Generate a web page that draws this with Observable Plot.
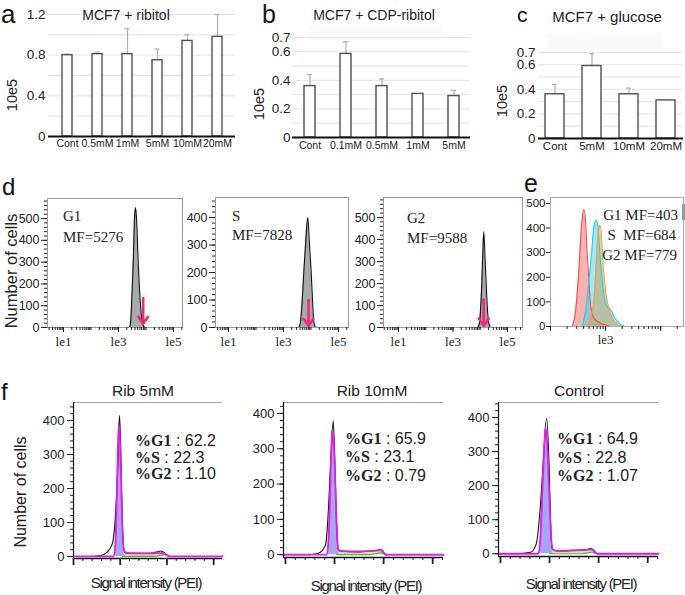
<!DOCTYPE html>
<html><head><meta charset="utf-8">
<script src="https://cdn.jsdelivr.net/npm/d3@7"></script>
<script src="https://cdn.jsdelivr.net/npm/@observablehq/plot@0.6"></script>
<style>
body{margin:0;background:#fff;}
#fig{position:relative;width:685px;height:595px;overflow:hidden;background:#fff;}
#fig svg{background:transparent !important;overflow:visible;}
</style></head><body><div id="fig"></div>
<script>
// ---------------- DATA ----------------
// panel a
const aCats = ["Cont","0.5mM","1mM","5mM","10mM","20mM"];
const aVals = [0.80,0.81,0.81,0.75,0.94,0.98];
const aErrs = [0.01,0.02,0.25,0.11,0.06,0.22];
const aYTicks = [0,0.4,0.8,1.2];
const aGrid = [0.2,0.4,0.6,0.8,1.0,1.2];
// panel b
const bCats = ["Cont","0.1mM","0.5mM","1mM","5mM"];
const bVals = [0.36,0.585,0.36,0.305,0.29];
const bErrs = [0.08,0.085,0.05,0,0.04];
const bYTicks = [0,0.2,0.4,0.6,0.7];
const bGrid = [0.1,0.2,0.3,0.4,0.5,0.6,0.7];
// panel c
const cCats = ["Cont","5mM","10mM","20mM"];
const cVals = [0.36,0.59,0.36,0.31];
const cErrs = [0.08,0.10,0.05,0];
const cYTicks = [0,0.2,0.4,0.6,0.7];
const cGrid = [0.1,0.2,0.3,0.4,0.5,0.6,0.7];
// panel d histograms (signal, count)
const d1X = [2500,2730,2970,3430,3820,4150,4520,5200,6310,7280,8800];
const d1Y = [0,20,100,300,500,550,500,300,100,20,0];
const d2X = [3600,4150,4790,5470,6310,7650,8810,10160,11350,12650,14600];
const d2Y = [0,20,100,200,300,400,300,200,100,20,0];
const d3X = [8130,9380,10470,11400,12100,13490,15200,16520,17980,20600,23770];
const d3Y = [0,20,100,200,300,435,300,200,100,20,0];
const dArrows = [{x:7900,top:134,tip:17},{x:8110,top:100,tip:6},{x:13490,top:127,tip:8}];
const dNames = ["G1","S","G2"];
const dMF = ["MF=5276","MF=7828","MF=9588"];
const dXTicks = [10,1000,100000];
const dXLabels = ["le1","le3","le5"];
// panel e
const eRedX = [248,285,327,361,403,433,464,498,533,614,811,1072,1230];
const eRedY = [0,62,226,390,475,430,295,185,90,34,14,4,0];
const eCyanX = [377,433,498,556,614,686,726,789,871,973,1072,1232,1418,1746,2310];
const eCyanY = [0,62,185,295,404,432,404,295,185,103,82,68,41,14,0];
const eOrangeX = [464,533,614,686,736,789,834,882,959,1043,1151,1322,1630,1874];
const eOrangeY = [0,34,103,281,384,411,384,281,185,116,75,34,7,0];
const eLabels = ["G1 MF=403","S\u2002MF=684","G2 MF=779"];
// panel f (channel, count)
const f1BlackX = [0,33,58,72,83,90,95,98.5,101,103.5,106,109,115,140,160,172,180,186,192,200,206,319];
const f1BlackY = [0,0,3,13,37,125,272,415,330,160,50,15,10,9,9,11,14,16,13,4,0,0];
const f1MagX = [0,86,90,93.5,97,99.5,102,105,108,112,160,180,190,200,206,319];
const f1MagY = [0,0,47,223,390,340,220,70,18,10,9,10,10,4,0,0];
const f1BlueX = [86,90,93.5,97,99.5,102,105,108,111];
const f1BlueY = [0,47,223,390,340,220,70,10,0];
const f1YelX = [100,108,115,160,185,195,202,206];
const f1YelY = [0,8,9,9,10,8,2,0];
const f1GreenX = [105,170,185,195,203,208];
const f1GreenY = [0,0,3,5,2,0];
const f2BlackX = [-4,50,58,71,82,87,92,97.3,100.7,104,107,112,150,180,187,192.5,198,204,322];
const f2BlackY = [0,0,1,7,30,115,258,379,258,97,16,10,8,11,12,15,10,0,0];
const f2MagX = [-4,84,88,92,95.3,99,102,105,108,112,150,187,193,200,205,322];
const f2MagY = [0,0,50,230,353,300,180,60,15,10,9,12,13,6,0,0];
const f2BlueX = [84,88,92,95.3,99,102,105,108,110];
const f2BlueY = [0,50,230,353,300,180,60,10,0];
const f2YelX = [98,106,115,160,187,195,201,205];
const f2YelY = [0,8,9,10,12,11,3,0];
const f2GreenX = [104,170,185,193,200,205];
const f2GreenY = [0,0,3,5,2,0];
const f3BlackX = [-4,34,61,73,80,87,94,99,102,105.5,116,150,177,184,190,197,322];
const f3BlackY = [0,0,4,29,117,263,397,263,98,15,8,10,12,16,10,0,0];
const f3MagX = [-4,77,81,86,91.8,96,99.5,103,106,112,150,178,185,192,197,322];
const f3MagY = [0,0,40,210,371,300,170,55,14,9,10,12,13,6,0,0];
const f3BlueX = [77,81,86,91.8,96,99.5,103,106,108];
const f3BlueY = [0,40,210,371,300,170,55,10,0];
const f3YelX = [94,102,112,150,178,186,193,197];
const f3YelY = [0,8,9,10,12,11,3,0];
const f3GreenX = [100,165,178,186,193,197];
const f3GreenY = [0,0,3,5,2,0];
const fTitles = ["Rib 5mM","Rib 10mM","Control"];
const fPhase = ["%G1","%S","%G2"];
const f1Pct = ["62.2","22.3","1.10"];
const f2Pct = ["65.9","23.1","0.79"];
const f3Pct = ["64.9","22.8","1.07"];
const fYTicks = [0,100,200,300,400];
const fXMajor = [0,100,200,300];

// ---------------- HELPERS ----------------
const SANS = "Liberation Sans, Arial, sans-serif";
const SERIF = "Liberation Serif, Times New Roman, serif";
const fig = document.getElementById("fig");
function put(el, left, top) {
  el.style.position = "absolute"; el.style.left = left + "px"; el.style.top = top + "px";
  fig.appendChild(el);
}
const pts = (xs, ys) => xs.map((x, i) => ({x, y: ys[i]}));
const baseStyle = {background: "transparent", overflow: "visible", fontFamily: SANS, color: "#222"};
const noText = () => "";
const plain = d => String(d);

// ---------------- BAR PANELS ----------------
function barPanel(o) {
  const rows = o.cats.map((c, i) => ({c, v: o.vals[i], hi: o.vals[i] + o.errs[i], e: o.errs[i]}));
  const eb = rows.filter(d => d.e > 0);
  const svg = Plot.plot({
    width: o.w, height: o.h, marginTop: o.mt, marginBottom: o.mb, marginLeft: o.ml, marginRight: o.mr,
    style: baseStyle,
    x: {type: "band", domain: o.cats, paddingInner: o.pi, paddingOuter: o.po},
    y: {domain: [0, o.ymax]},
    marks: [
      Plot.ruleY(o.grid, {stroke: "#e4e4e4"}),
      Plot.ruleX(eb, {x: "c", y1: "v", y2: "hi", stroke: "#b0b0b0", strokeWidth: 1.2}),
      Plot.tickY(eb, {x: "c", y: "hi", stroke: "#b0b0b0", strokeWidth: 1.2, insetLeft: o.cap, insetRight: o.cap}),
      Plot.barY(rows, {x: "c", y: "v", fill: "white", stroke: "#505050", strokeWidth: 1.4}),
      Plot.ruleY([0], {stroke: "#111", strokeWidth: 2}),
      Plot.axisX({tickSize: 0, tickPadding: o.xpad, fontSize: o.xfs, label: null}),
      Plot.axisY({ticks: o.yticks, tickFormat: plain, tickSize: 0, tickPadding: o.ypad, fontSize: o.yfs, label: null})
    ]
  });
  put(svg, o.left, o.top);
}
barPanel({cats: aCats, vals: aVals, errs: aErrs, yticks: aYTicks, grid: aGrid, ymax: 1.2,
  left: 0, top: 0, w: 240, h: 165, ml: 48, mr: 5, mt: 14, mb: 29, pi: 0.67, po: 0.39, cap: 2.5,
  xpad: 3.5, xfs: 10.5, ypad: 3, yfs: 13.5});
barPanel({cats: bCats, vals: bVals, errs: bErrs, yticks: bYTicks, grid: bGrid, ymax: 0.7,
  left: 240, top: 0, w: 232, h: 165, ml: 52, mr: 2, mt: 37, mb: 28, pi: 0.70, po: 0.29, cap: 3,
  xpad: 4.5, xfs: 10.5, ypad: 2, yfs: 13.5});
barPanel({cats: cCats, vals: cVals, errs: cErrs, yticks: cYTicks, grid: cGrid, ymax: 0.7,
  left: 472, top: 0, w: 213, h: 165, ml: 66, mr: 2, mt: 52, mb: 27, pi: 0.486, po: 0.2, cap: 7,
  xpad: 3, xfs: 11.5, ypad: 3, yfs: 13.5});

// ---------------- D PANELS ----------------
function dPanel(o) {
  const data = pts(o.xs, o.ys);
  const xMinor = d3.scaleLog().domain(o.xdom).ticks();
  const yMinor = d3.range(0, o.ymax, 20);
  const svg = Plot.plot({
    width: o.w, height: o.h, marginTop: o.mt, marginBottom: o.mb, marginLeft: o.ml, marginRight: o.mr,
    style: baseStyle,
    x: {type: "log", domain: o.xdom},
    y: {domain: [0, o.ymax]},
    marks: [
      Plot.areaY(data, {x: "x", y: "y", fill: "#a9a9a9", curve: "monotone-x"}),
      Plot.lineY(data, {x: "x", y: "y", stroke: "#111", strokeWidth: 1.1, curve: "monotone-x"}),
      Plot.arrow([o.arrow], {x1: "x", x2: "x", y1: "top", y2: "tip", stroke: "#f0287d", strokeWidth: 2.6, headLength: 10, headAngle: 70}),
      Plot.frame({stroke: "#9a9a9a"}),
      Plot.axisY({ticks: yMinor, tickSize: 3, tickFormat: noText, label: null}),
      Plot.axisY({ticks: [0,100,200,300,400,500].filter(t => t < o.ymax), tickFormat: plain, tickSize: 6, tickPadding: 2, fontSize: 12.5, label: null}),
      Plot.axisX({ticks: xMinor, tickSize: 3, tickFormat: noText, label: null}),
      Plot.axisX({ticks: dXTicks, tickFormat: d => dXLabels[dXTicks.indexOf(d)], tickSize: 5, tickPadding: 4, fontSize: 13, fontFamily: SERIF, label: null})
    ]
  });
  put(svg, o.left, o.top);
}
dPanel({xs: d1X, ys: d1Y, arrow: dArrows[0], xdom: [2.62, 212000], ymax: 592,
  left: 0, top: 185, w: 190, h: 165, ml: 47, mr: 8, mt: 13, mb: 23});
dPanel({xs: d2X, ys: d2Y, arrow: dArrows[1], xdom: [3.37, 231000], ymax: 473,
  left: 190, top: 185, w: 165, h: 165, ml: 25, mr: 7, mt: 12, mb: 23});
dPanel({xs: d3X, ys: d3Y, arrow: dArrows[2], xdom: [2.82, 355000], ymax: 591,
  left: 355, top: 185, w: 170, h: 165, ml: 28, mr: 3, mt: 12, mb: 23});

// ---------------- E PANEL ----------------
{
  const red = pts(eRedX, eRedY), cyan = pts(eCyanX, eCyanY), orange = pts(eOrangeX, eOrangeY);
  const xdom = [100, 26000];
  const xMinor = d3.scaleLog().domain(xdom).ticks();
  const svg = Plot.plot({
    width: 175, height: 165, marginTop: 12, marginBottom: 24, marginLeft: 40, marginRight: 2,
    style: baseStyle,
    x: {type: "log", domain: xdom},
    y: {domain: [0, 524]},
    marks: [
      Plot.areaY(red, {x: "x", y: "y", fill: "#f47272", fillOpacity: 0.55, curve: "monotone-x"}),
      Plot.areaY(cyan, {x: "x", y: "y", fill: "#45cdef", fillOpacity: 0.5, curve: "monotone-x"}),
      Plot.areaY(orange, {x: "x", y: "y", fill: "#c9a060", fillOpacity: 0.55, curve: "monotone-x"}),
      Plot.lineY(red, {x: "x", y: "y", stroke: "#f04e4e", strokeWidth: 1.1, curve: "monotone-x"}),
      Plot.lineY(cyan, {x: "x", y: "y", stroke: "#20d0f2", strokeWidth: 1.1, curve: "monotone-x"}),
      Plot.lineY(orange, {x: "x", y: "y", stroke: "#f5a23c", strokeWidth: 1.1, curve: "monotone-x"}),
      Plot.frame({stroke: "#a8a8a8"}),
      Plot.axisY({ticks: [0,100,200,300,400,500], tickFormat: plain, tickSize: 4, tickPadding: 1, fontSize: 11.5, label: null}),
      Plot.axisX({ticks: xMinor, tickSize: 3, tickFormat: noText, label: null}),
      Plot.axisX({ticks: [100,1000,10000], tickSize: 5, tickFormat: d => d === 1000 ? "le3" : "", tickPadding: 3, fontSize: 13, fontFamily: SERIF, label: null})
    ]
  });
  put(svg, 510, 185);
}

// ---------------- F PANELS ----------------
function fPanel(o) {
  const xMinor = d3.range(0, o.xdom[1], 20);
  const yMinor = d3.range(0, o.ydom[1], 20);
  const svg = Plot.plot({
    width: o.w, height: o.h, marginTop: o.mt, marginBottom: o.mb, marginLeft: o.ml, marginRight: o.mr,
    style: baseStyle,
    x: {domain: o.xdom},
    y: {domain: o.ydom},
    marks: [
      Plot.ruleY([o.ydom[1]], {stroke: "#a8a8a8", strokeWidth: 1.2}),
      Plot.areaY(pts(o.yelX, o.yelY), {x: "x", y: "y", fill: "#e2e2a2", curve: "monotone-x"}),
      Plot.areaY(pts(o.blueX, o.blueY), {x: "x", y: "y", fill: "#a6a6f2", curve: "monotone-x"}),
      Plot.lineY(pts(o.greenX, o.greenY), {x: "x", y: "y", stroke: "#4fb04f", strokeWidth: 1.2, curve: "monotone-x"}),
      Plot.lineY(pts(o.blackX, o.blackY), {x: "x", y: "y", stroke: "#111", strokeWidth: 1.1, curve: "monotone-x"}),
      Plot.lineY(pts(o.magX, o.magY), {x: "x", y: "y", stroke: "#e61ce6", strokeWidth: 1.8, curve: "monotone-x"}),
      Plot.ruleX([o.xdom[0]], {stroke: "#111", strokeWidth: 1.2}),
      Plot.ruleY([o.ydom[0]], {stroke: "#111", strokeWidth: 1.5}),
      Plot.axisY({ticks: yMinor, tickSize: 3, tickFormat: noText, label: null}),
      Plot.axisY({ticks: fYTicks, tickFormat: plain, tickSize: 6, tickPadding: 3, fontSize: 13, label: null}),
      Plot.axisX({ticks: xMinor.filter(t => t >= o.xdom[0]), tickSize: 3, tickFormat: noText, label: null}),
      Plot.axisX({ticks: fXMajor, tickSize: 7, strokeWidth: 1.8, tickFormat: noText, label: null})
    ]
  });
  put(svg, o.left, o.top);
}
fPanel({blackX: f1BlackX, blackY: f1BlackY, magX: f1MagX, magY: f1MagY, blueX: f1BlueX, blueY: f1BlueY,
  yelX: f1YelX, yelY: f1YelY, greenX: f1GreenX, greenY: f1GreenY, xdom: [0, 319], ydom: [-6, 453],
  left: 0, top: 395, w: 230, h: 200, ml: 73, mr: 8, mt: 7, mb: 37});
fPanel({blackX: f2BlackX, blackY: f2BlackY, magX: f2MagX, magY: f2MagY, blueX: f2BlueX, blueY: f2BlueY,
  yelX: f2YelX, yelY: f2YelY, greenX: f2GreenX, greenY: f2GreenY, xdom: [-4, 322], ydom: [-8, 431],
  left: 230, top: 395, w: 225, h: 200, ml: 53, mr: 12, mt: 7, mb: 38});
fPanel({blackX: f3BlackX, blackY: f3BlackY, magX: f3MagX, magY: f3MagY, blueX: f3BlueX, blueY: f3BlueY,
  yelX: f3YelX, yelY: f3YelY, greenX: f3GreenX, greenY: f3GreenY, xdom: [-4, 322], ydom: [-8, 444],
  left: 450, top: 395, w: 235, h: 200, ml: 48, mr: 27, mt: 7, mb: 39});

// ---------------- TEXT OVERLAY ----------------
const ov = d3.create("svg").attr("width", 685).attr("height", 595)
  .style("position", "absolute").style("left", "0px").style("top", "0px").style("pointer-events", "none");
ov.append("rect").attr("x", 308).attr("y", 25).attr("width", 135).attr("height", 10).attr("fill", "#fafafa");
ov.append("rect").attr("x", 547).attr("y", 33).attr("width", 116).attr("height", 15).attr("fill", "#fafafa");
ov.append("rect").attr("x", 682).attr("y", 204).attr("width", 3).attr("height", 16).attr("fill", "#9a9a9a");
function txt(s, x, y, o = {}) {
  const t = ov.append("text").text(s).attr("x", x).attr("y", y)
    .attr("font-family", o.family || SANS).attr("font-size", o.size || 14)
    .attr("font-weight", o.weight || "normal").attr("fill", o.fill || "#222")
    .attr("text-anchor", o.anchor || "middle");
  if (!o.baseline) t.attr("dominant-baseline", "central");
  if (o.rotate) t.attr("transform", `rotate(-90 ${x} ${y})`);
  if (o.ls) t.attr("letter-spacing", o.ls);
  return t;
}
// panel letters
txt("a", 1, 23, {size: 26, anchor: "start", baseline: true, fill: "#111"});
txt("b", 262, 23, {size: 25, anchor: "start", baseline: true, fill: "#111"});
txt("c", 517, 22, {size: 21, anchor: "start", baseline: true, fill: "#111"});
txt("d", 2, 195, {size: 24, anchor: "start", baseline: true, fill: "#111"});
txt("e", 524, 192, {size: 25, anchor: "start", baseline: true, fill: "#111"});
txt("f", 1, 400, {size: 24, anchor: "start", baseline: true, fill: "#111"});
// titles
txt("MCF7 + ribitol", 126, 15, {size: 14});
txt("MCF7 + CDP-ribitol", 374, 15, {size: 14});
txt("MCF7 + glucose", 607, 16, {size: 15});
// y labels
txt("10e5", 12, 95, {size: 14.5, rotate: true});
txt("10e5", 258.5, 104, {size: 14.5, rotate: true});
txt("10e5", 502, 101, {size: 14.5, rotate: true});
txt("Number of cells", 11, 271, {size: 16.5, rotate: true});
txt("Number of cells", 20, 492, {size: 16, rotate: true});
// d texts
[[63, 216, 237], [232, 216, 235], [407, 218, 238]].forEach(([x, y1, y2], i) => {
  txt(dNames[i], x, y1, {size: 15, anchor: "start", family: SERIF});
  txt(dMF[i], x, y2, {size: 15, anchor: "start", family: SERIF});
});
// e texts
[[678, 215], [676, 235], [677, 255]].forEach(([x, y], i) => {
  txt(eLabels[i], x, y, {size: 15, anchor: "end", family: SERIF});
});
// f titles and x labels
[[143, 390], [372, 390], [579, 390]].forEach(([x, y], i) => txt(fTitles[i], x, y, {size: 15.5}));
[[146, 582], [366, 585], [581, 583]].forEach(([x, y]) => txt("Signal intensity (PEI)", x, y, {size: 15, ls: -1.3}));
// f percentage texts
[[135, [440, 457, 473], f1Pct], [345, [438, 456, 475], f2Pct], [557, [438, 457, 475], f3Pct]].forEach(([x, ys, pct]) => {
  ys.forEach((y, i) => {
    const t = ov.append("text").attr("x", x).attr("y", y).attr("dominant-baseline", "central").attr("font-size", 16).attr("fill", "#222");
    t.append("tspan").attr("font-family", SERIF).attr("font-weight", "bold").text(fPhase[i]);
    t.append("tspan").attr("font-family", SANS).text(" : " + pct[i]);
  });
});
fig.appendChild(ov.node());
</script></body></html>
